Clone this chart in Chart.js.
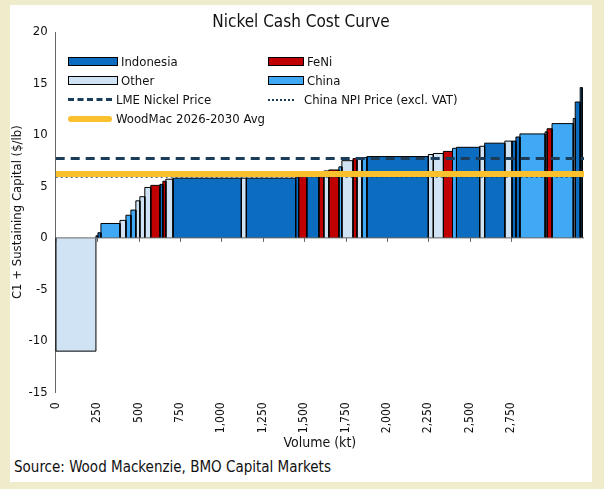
<!DOCTYPE html>
<html>
<head>
<meta charset="utf-8">
<script src="https://cdn.jsdelivr.net/npm/chart.js@4"></script>
<style>
  body { margin: 0; background: #eeecca; font-family: "DejaVu Sans Condensed", "Liberation Sans Narrow", "Open Sans", sans-serif; }
  #card { position: absolute; left: 10px; top: 5px; width: 582px; height: 477px; background: #fff; }
  #wrap { position: absolute; left: 0; top: 0; width: 582px; height: 447px; }
  #title { position: absolute; left: 0; width: 582px; top: 6px; text-align: center; font-size: 17px; color: #111; }
  #source { position: absolute; left: 4px; top: 453px; font-size: 15px; color: #111; }
  .lg { position: absolute; font-size: 13px; color: #111; display: flex; align-items: center; }
  .sw { display: inline-block; width: 48px; height: 7px; border: 1px solid #000; margin-right: 3px; }
  .ln { display: inline-block; width: 40px; height: 0; margin-right: 4px; }
</style>
</head>
<body>
<div id="card">
  <div id="wrap"><canvas id="c"></canvas></div>
  <div id="title">Nickel Cash Cost Curve</div>
  <div class="lg" style="left:58px;top:49px"><span class="sw" style="background:#0b6cc0"></span>Indonesia</div>
  <div class="lg" style="left:58px;top:68px"><span class="sw" style="background:#cfe3f4"></span>Other</div>
  <div class="lg" style="left:58px;top:87px"><span class="ln" style="border-top:3px dashed #1c3d5a;width:44px"></span>LME Nickel Price</div>
  <div class="lg" style="left:58px;top:106px"><span class="ln" style="border-top:6px solid #fbc02d;border-radius:3px;width:44px"></span>WoodMac 2026-2030 Avg</div>
  <div class="lg" style="left:258px;top:49px"><span class="sw" style="background:#c00000;width:34px"></span>FeNi</div>
  <div class="lg" style="left:258px;top:68px"><span class="sw" style="background:#3fa9f5;width:34px"></span>China</div>
  <div class="lg" style="left:258px;top:87px"><span class="ln" style="border-top:2px dotted #1c3d5a;width:26px;margin-right:10px"></span>China NPI Price (excl. VAT)</div>
  <div id="source">Source: Wood Mackenzie, BMO Capital Markets</div>
</div>
<script>
// Cost curve segments: volume (kt), cost ($/lb), region
const volumes = [243, 12, 18, 115, 36, 30, 30, 24, 30, 36, 55, 18, 18, 43, 413, 30, 298, 18, 49, 73,
  30, 30, 61, 18, 67, 24, 30, 30, 371, 30, 61, 55, 24, 140, 30, 122, 43, 24, 24, 152, 12, 30, 128, 12, 30, 12];
const costs = [-11, 0.2, 0.5, 1.4, 1.7, 2.2, 2.7, 3.6, 4.0, 4.9, 5.1, 5.2, 5.5, 5.7, 5.8, 5.8, 5.8, 5.9, 6.0, 6.0,
  6.4, 6.5, 6.6, 6.9, 7.5, 7.7, 7.8, 7.8, 7.9, 8.1, 8.2, 8.4, 8.7, 8.8, 8.9, 9.2, 9.4, 9.4, 9.8, 10.1, 10.3, 10.6, 11.1, 11.6, 13.2, 14.6];
const regions = ["O", "I", "I", "C", "O", "C", "C", "O", "O", "O", "F", "I", "F", "O", "I", "O", "I", "I", "F", "I",
  "F", "O", "F", "C", "O", "F", "O", "C", "I", "O", "O", "F", "C", "I", "O", "I", "O", "I", "I", "C", "O", "F", "C", "O", "I", "I"];

const lmePrice = 7.7;
const npiPrice = 5.95;
const woodmacAvg = 6.2;
const xTicks = [0, 250, 500, 750, 1000, 1250, 1500, 1750, 2000, 2250, 2500, 2750];
const xMax = 3190;

const colors = { I: "#0b6cc0", O: "#cfe3f4", F: "#c00000", C: "#3fa9f5" };

const datasets = [];
let cum = 0;
volumes.forEach((v, i) => {
  const x0 = cum, x1 = cum + v;
  cum = x1;
  datasets.push({
    data: [{ x: x0, y: 0 }, { x: x0, y: costs[i] }, { x: x1, y: costs[i] }, { x: x1, y: 0 }],
    backgroundColor: colors[regions[i]],
    borderColor: "#000",
    borderWidth: 1,
    fill: "origin",
    pointRadius: 0,
    tension: 0,
    order: 2,
  });
});

function hline(y, style) {
  return Object.assign({
    data: [{ x: 0, y: y }, { x: xMax, y: y }],
    pointRadius: 0,
    fill: false,
    order: 0,
  }, style);
}
datasets.push(hline(npiPrice, { borderColor: "#1c3d5a", borderWidth: 2, borderDash: [2, 3], order: 1 }));
datasets.push(hline(woodmacAvg, { borderColor: "#fbc02d", borderWidth: 6 }));
datasets.push(hline(lmePrice, { borderColor: "#1c3d5a", borderWidth: 3, borderDash: [9, 6] }));

// tick marks along the zero line
const zeroTicks = {
  id: "zeroTicks",
  afterDatasetsDraw(chart) {
    const { ctx, scales: { x, y } } = chart;
    const py = y.getPixelForValue(0);
    ctx.save();
    ctx.strokeStyle = "#666";
    ctx.lineWidth = 1;
    ctx.beginPath();
    ctx.moveTo(x.left, py); ctx.lineTo(x.right, py);
    xTicks.forEach(t => {
      const px = Math.round(x.getPixelForValue(t)) + 0.5;
      ctx.moveTo(px, py); ctx.lineTo(px, py + 4);
    });
    ctx.stroke();
    ctx.restore();
  },
};

const family = "'DejaVu Sans Condensed', 'Liberation Sans Narrow', 'Open Sans', sans-serif";

new Chart(document.getElementById("c"), {
  type: "line",
  data: { datasets: datasets },
  plugins: [zeroTicks],
  options: {
    responsive: true,
    maintainAspectRatio: false,
    animation: false,
    layout: { padding: { top: 27, right: 8 } },
    plugins: { legend: { display: false }, tooltip: { enabled: false } },
    scales: {
      x: {
        type: "linear",
        min: 0,
        max: xMax,
        afterBuildTicks: (s) => { s.ticks = xTicks.map(v => ({ value: v })); },
        grid: { display: false },
        border: { display: false },
        ticks: {
          color: "#111", font: { family: family, size: 12 }, minRotation: 90, maxRotation: 90, padding: 2,
          callback: (v) => v.toLocaleString("en-US"),
        },
        title: { display: true, text: "Volume (kt)", color: "#111", font: { family: family, size: 14 }, padding: 0 },
      },
      y: {
        min: -15,
        max: 20,
        ticks: { stepSize: 5, color: "#111", font: { family: family, size: 13 } },
        grid: { display: false, drawTicks: true, tickLength: 5 },
        border: { display: true, color: "#666" },
        title: { display: true, text: "C1 + Sustaining Capital ($/lb)", color: "#111", font: { family: family, size: 13 }, padding: 0 },
      },
    },
  },
});
</script>
</body>
</html>
